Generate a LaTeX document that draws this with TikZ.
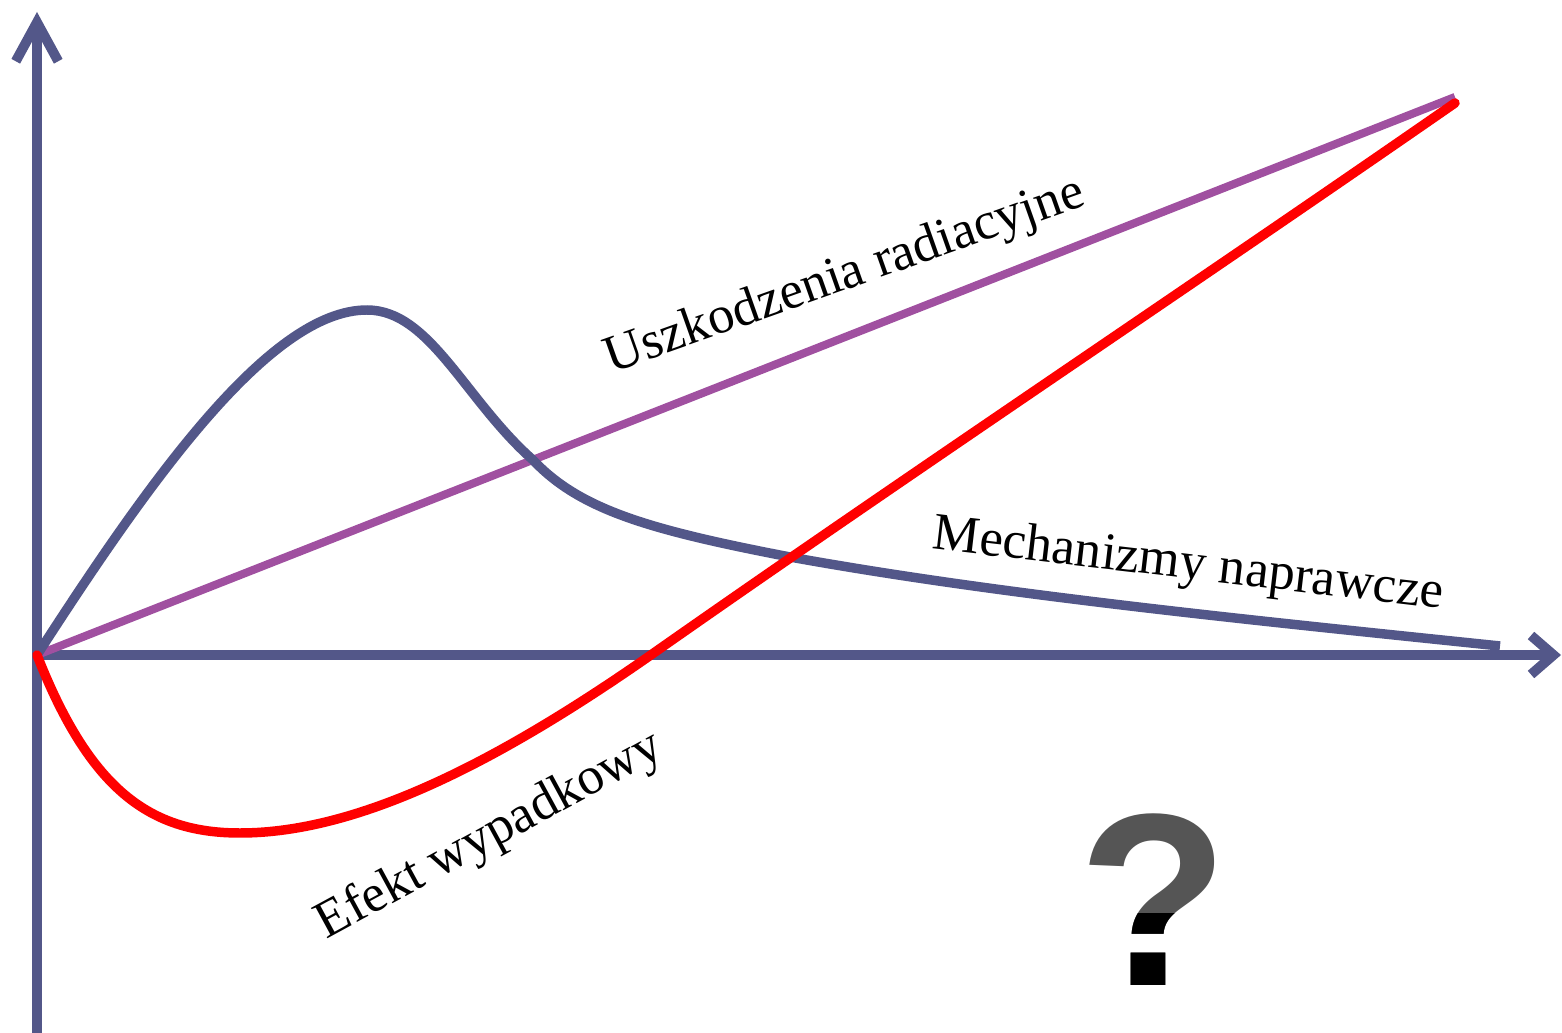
\documentclass[tikz,border=0pt]{standalone}
\usepackage{fontspec}
\setmainfont{Liberation Serif}
\newfontfamily\qfont{Liberation Sans}
\usepackage{tikz}
\usetikzlibrary{arrows.meta}
\definecolor{axblue}{HTML}{535789}
\definecolor{dmgpurple}{HTML}{A050A0}
\definecolor{netred}{HTML}{FF0000}
\definecolor{qgray}{HTML}{555555}

\begin{document}
\begin{tikzpicture}[
  x=0.02cm, y=-0.02cm,
  axis/.style={line width=5.6pt, axblue},
  curve/.style={line width=5.4pt},
  lbl/.style={font=\fontsize{30}{36}\selectfont, inner sep=0pt},
  qmark/.style={font=\qfont\bfseries\fontsize{140}{160}\selectfont,
                inner sep=0pt, anchor=base}
]
\useasboundingbox (0,0) rectangle (1562,1033);

%% Axes
\coordinate (o) at (37,655);
\coordinate (ytop) at (37,12);
\coordinate (ybot) at (37,1045);
\coordinate (xend) at (1561,655);
\draw[axis, -{Straight Barb[length=0.78cm, width=0.85cm]}] (ybot) -- (ytop);
\draw[axis, -{Straight Barb[length=0.45cm, width=0.78cm]}] (o) -- (xend);

%% Radiation damage (straight)
\coordinate (dmgend) at (1455,97);
\draw[curve, dmgpurple, line width=4.6pt] (o) -- (dmgend);

%% Repair mechanisms
\draw[curve, axblue] (o)
  .. controls (150,480) and (270,310) .. (367,310)
  .. controls (430,310) and (465,400) .. (533,460)
  .. controls (580,510) and (650,530) .. (790,557)
  .. controls (1000,595) and (1250,620) .. (1500,646);

%% Net effect
\draw[curve, netred, line cap=round] (o)
  .. controls (90,790) and (150,833) .. (240,833)
  .. controls (360,833) and (500,760) .. (648,657)
  .. controls (900,480) and (1200,280) .. (1455,103);

%% Labels
\node[lbl, rotate=19.5] (damage) at (845,277) {Uszkodzenia radiacyjne};
\node[lbl, rotate=-6.7] (repair) at (1188,566) {Mechanizmy naprawcze};
\node[lbl, rotate=28.5] (net) at (490,836) {Efekt wypadkowy};

%% Question mark
\node[qmark, qgray] (quest) at (1154,985) {?};
\begin{scope}
  \clip (1000,913) rectangle (1300,1033);
  \node[qmark, black] (questlow) at (1154,985) {?};
\end{scope}

\end{tikzpicture}
\end{document}
